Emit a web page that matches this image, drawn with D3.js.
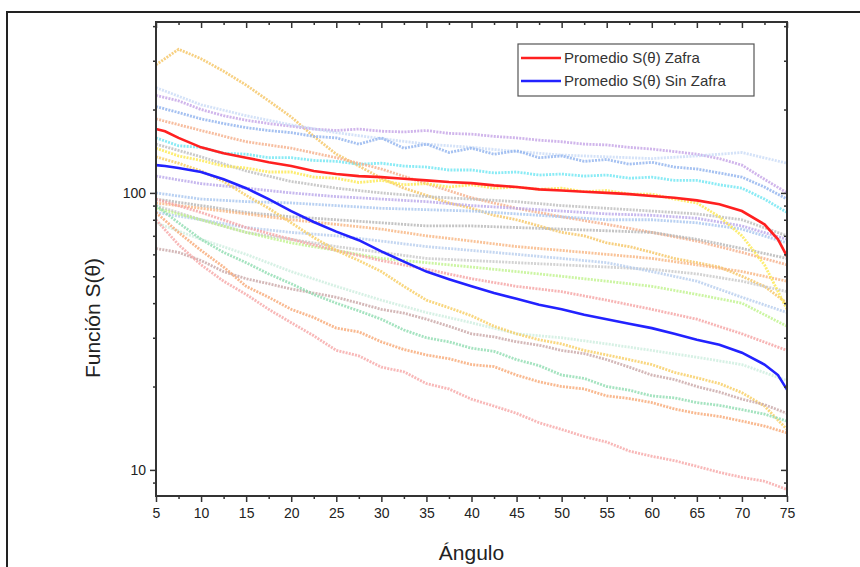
<!DOCTYPE html>
<html><head><meta charset="utf-8">
<script src="https://cdn.jsdelivr.net/npm/d3@7"></script>
<style>body{margin:0;background:#fff;} svg{display:block;}</style>
</head><body>
<svg id="c" width="860" height="567"></svg>
<script>
// ---------- data ----------
const angles5 = [5,10,15,20,25,30,35,40,45,50,55,60,65,70,75];
const angles25 = [5,7.5,10,12.5,15,17.5,20,22.5,25,27.5,30,32.5,35,37.5,40,42.5,45,47.5,50,52.5,55,57.5,60,62.5,65,67.5,70,72.5,75];
const mainAngles = [5,6,7.5,10,12.5,15,17.5,20,22.5,25,27.5,30,32.5,35,37.5,40,42.5,45,47.5,50,52.5,55,57.5,60,62.5,65,67.5,70,72.5,74,75];

const promedioZafra = [170,167,158,146,139,134,129,125,120,117,115,114,112.5,111,109.5,108.5,106.5,105,103,102,101,100,99,97.5,96,94,91,86,77,68,59];
const promedioSinZafra = [126,125,123,119,112,104,95,86,78.5,72.5,67.5,61.5,56.5,52,48.8,46,43.5,41.5,39.5,38,36.3,35,33.7,32.5,31,29.5,28.3,26.5,24,22,19.5];

const gold1 = [290,330,305,275,245,215,188,160,138,125,113,104,98,92,88,83,80,76,72,70,66,64,61,58,56,54,50,46,40];
const purple = [225,215,200,190,183,178,174,170,168,170,167,166,168,164,163,160,158,155,153,150,149,146,144,141,138,133,126,112,100];
const blueZig = [205,195,185,178,172,168,165,160,158,150,158,145,150,140,145,138,142,134,136,130,132,127,129,124,122,118,114,105,95];
const cyan = [158,148,146,139,138,134,134,131,130,127,128,125,124,121,121,118,119,116,117,115,116,113,114,111,111,107,104,95,85];
const yellow = [145,136,131,125,123,119,119,114,113,109,111,107,108,105,107,104,105,103,104,101,102,99,99,95,92,82,70,55,38];

const paleBlueTop = [240,208,190,176,165,157,150,146,141,137,135,133,136,140,128];
const salmonUp = [185,168,153,145,134,122,108,96,88,82,77,72,67,61,55];
const gray1 = [150,135,120,110,104,100,97,95,93,90,88,86,84,80,70];
const lavender2 = [115,108,104,100,97,95,93,90,88,86,84,83,81,76,68];
const lightBlue2 = [100,95,93,92,90,88,87,86,84,82,80,80,78,74,66];
const gray2 = [95,90,85,82,80,78,76,76,75,74,73,72,68,63,58];
const orange2 = [92,88,84,80,77,74,70,67,64,62,60,58,55,52,48];
const gray3 = [90,80,72,68,64,61,58,57,56,55,54,53,51,48,44];
const lightBlue3 = [85,80,75,72,70,67,64,62,60,58,56,52,48,42,37];
const lime = [88,80,72,66,62,58,56,54,52,50,48,46,43,40,33];
const pink = [95,85,75,68,62,57,53,49,46,44,41,38,35,31,27];
const paleGreen = [78,68,60,52,46,41,37,34,31,30,28.5,27,25.5,24,21];
const gold2 = [135,128,120,110,98,88,78,69,62,57,52,46,41,38.5,36,33,31,29.5,28.5,27,26,25,24,22.5,21.5,20.5,19,17,14];
const brown = [63,61,57,52,49,47,45,43.5,42,40,38,36.8,35,33,31,30.2,29,28.2,27,26.3,25,23.5,22,21.2,20,19.1,18,17.2,16];
const green = [90,78,68,61,56,51,47,43,40,37.5,35,32,30,29,27.5,26.8,25,23.8,22,21.4,20,19.4,18.5,18.2,17.5,17.1,16.5,15.9,15];
const orange3 = [85,72,62,54,46,42,38,35.5,32.5,31.5,29,27.2,26,25.2,24,23.6,22,20.8,20,19.6,18.5,18.1,17.5,16.6,16,15.6,15,14.4,13.6];
const pinkLow = [80,65,55,48,43,38,34,30.5,27,25.8,23.5,22.6,20.5,19.6,18,17,16,14.8,14,13.2,12.6,11.7,11.2,10.8,10.3,9.8,9.4,9.1,8.5];

const xTicks = [5,10,15,20,25,30,35,40,45,50,55,60,65,70,75];
const yTickLabels = [10,100];
const legendLabels = ["Promedio S(\u03b8) Zafra","Promedio S(\u03b8) Sin Zafra"];

// ---------- layout ----------
const svg = d3.select("#c");
const L = 156, R = 787, T = 22, B = 496;
const x = d3.scaleLinear().domain([5,75]).range([L,R]);
const y = d3.scaleLog().domain([8.05,414]).range([B,T]);

// outer frame
svg.append("path").attr("d","M7,567 V12 H860").attr("fill","none").attr("stroke","#222").attr("stroke-width",2);

const faint = [
  [angles25,gold1,"#f5c462"],[angles25,purple,"#c4a3e6"],[angles5,paleBlueTop,"#c9dbf6"],
  [angles25,blueZig,"#8fb2ee"],[angles25,cyan,"#6de6f2"],[angles5,salmonUp,"#f5ae88"],
  [angles5,gray1,"#bdbdbd"],[angles5,lavender2,"#b9a6ea"],[angles5,lightBlue2,"#a8c6ef"],
  [angles5,gray2,"#b5b5b5"],[angles5,orange2,"#f8b480"],[angles5,gray3,"#c8c8c8"],
  [angles5,lightBlue3,"#b6cdee"],[angles5,lime,"#bff28c"],[angles5,pink,"#f5a3a3"],
  [angles5,paleGreen,"#cdeede"],[angles25,gold2,"#f8cd60"],[angles25,brown,"#c9a6a6"],
  [angles25,green,"#8fdcb0"],[angles25,orange3,"#f7a874"],[angles25,pinkLow,"#f6a6a6"],
  [angles25,yellow,"#fde84e"]
];
const line = d3.line().x(d=>x(d[0])).y(d=>y(d[1]));
const g = svg.append("g");
faint.forEach(([xs,vs,col])=>{
  g.append("path").attr("d",line(xs.map((a,i)=>[a,vs[i]])))
   .attr("fill","none").attr("stroke",col).attr("stroke-width",2.8)
   .attr("stroke-dasharray","2 1.2").attr("opacity",0.8);
});
g.append("path").attr("d",line(mainAngles.map((a,i)=>[a,promedioZafra[i]])))
 .attr("fill","none").attr("stroke","#ff2020").attr("stroke-width",2.6);
g.append("path").attr("d",line(mainAngles.map((a,i)=>[a,promedioSinZafra[i]])))
 .attr("fill","none").attr("stroke","#2222ff").attr("stroke-width",2.6);

// axes
const yMinor = [9,20,30,40,50,60,70,80,90,200,300,400];
const xMinor = d3.range(7.5,75,5);
const axC = "#333";
function ticks(axis, vals, len){
  axis.tickValues(vals).tickSize(len).tickFormat("");
  return axis;
}
const bottomG = svg.append("g").attr("transform",`translate(0,${B})`);
bottomG.call(d3.axisBottom(x).tickValues(xTicks).tickSize(6).tickPadding(6).tickFormat(d3.format("d")));
bottomG.append("g").call(ticks(d3.axisBottom(x),xMinor,3));
const topG = svg.append("g").attr("transform",`translate(0,${T})`);
topG.call(ticks(d3.axisBottom(x),xTicks,6));
topG.append("g").call(ticks(d3.axisBottom(x),xMinor,3));
const leftG = svg.append("g").attr("transform",`translate(${L},0)`);
leftG.call(d3.axisLeft(y).tickValues(yTickLabels).tickSize(6).tickPadding(4).tickFormat(d3.format("d")));
leftG.append("g").call(ticks(d3.axisLeft(y),yMinor,3));
const rightG = svg.append("g").attr("transform",`translate(${R},0)`);
rightG.call(ticks(d3.axisLeft(y),yTickLabels,6));
rightG.append("g").call(ticks(d3.axisLeft(y),yMinor,3));
svg.selectAll(".domain").remove();
svg.selectAll(".tick line").attr("stroke",axC).attr("stroke-width",1.5);
svg.selectAll(".tick text").attr("fill","#222").style("font-family","'Liberation Sans',Arial,sans-serif").style("font-size","14px");
svg.append("rect").attr("x",L).attr("y",T).attr("width",R-L).attr("height",B-T)
   .attr("fill","none").attr("stroke",axC).attr("stroke-width",2);

// titles
svg.append("text").attr("x",(L+R)/2).attr("y",560).attr("text-anchor","middle")
  .style("font-family","'Liberation Sans',Arial,sans-serif").style("font-size","21px").attr("fill","#222").text("\u00c1ngulo");
svg.append("text").attr("transform","translate(100,318) rotate(-90)").attr("text-anchor","middle")
  .style("font-family","'Liberation Sans',Arial,sans-serif").style("font-size","21px").attr("fill","#222").text("Funci\u00f3n S(\u03b8)");

// legend
const lg = svg.append("g");
lg.append("rect").attr("x",518).attr("y",44).attr("width",236).attr("height",52)
  .attr("fill","#fff").attr("stroke","#555").attr("stroke-width",1.2);
const legCols = ["#ff2020","#2222ff"];
legendLabels.forEach((t,i)=>{
  const yy = 58 + i*23;
  lg.append("line").attr("x1",521).attr("x2",561).attr("y1",yy).attr("y2",yy)
    .attr("stroke",legCols[i]).attr("stroke-width",2.6);
  lg.append("text").attr("x",564).attr("y",yy+5).style("font-family","'Liberation Sans',Arial,sans-serif")
    .style("font-size","15px").attr("fill","#333").text(t);
});
</script>
</body></html>
